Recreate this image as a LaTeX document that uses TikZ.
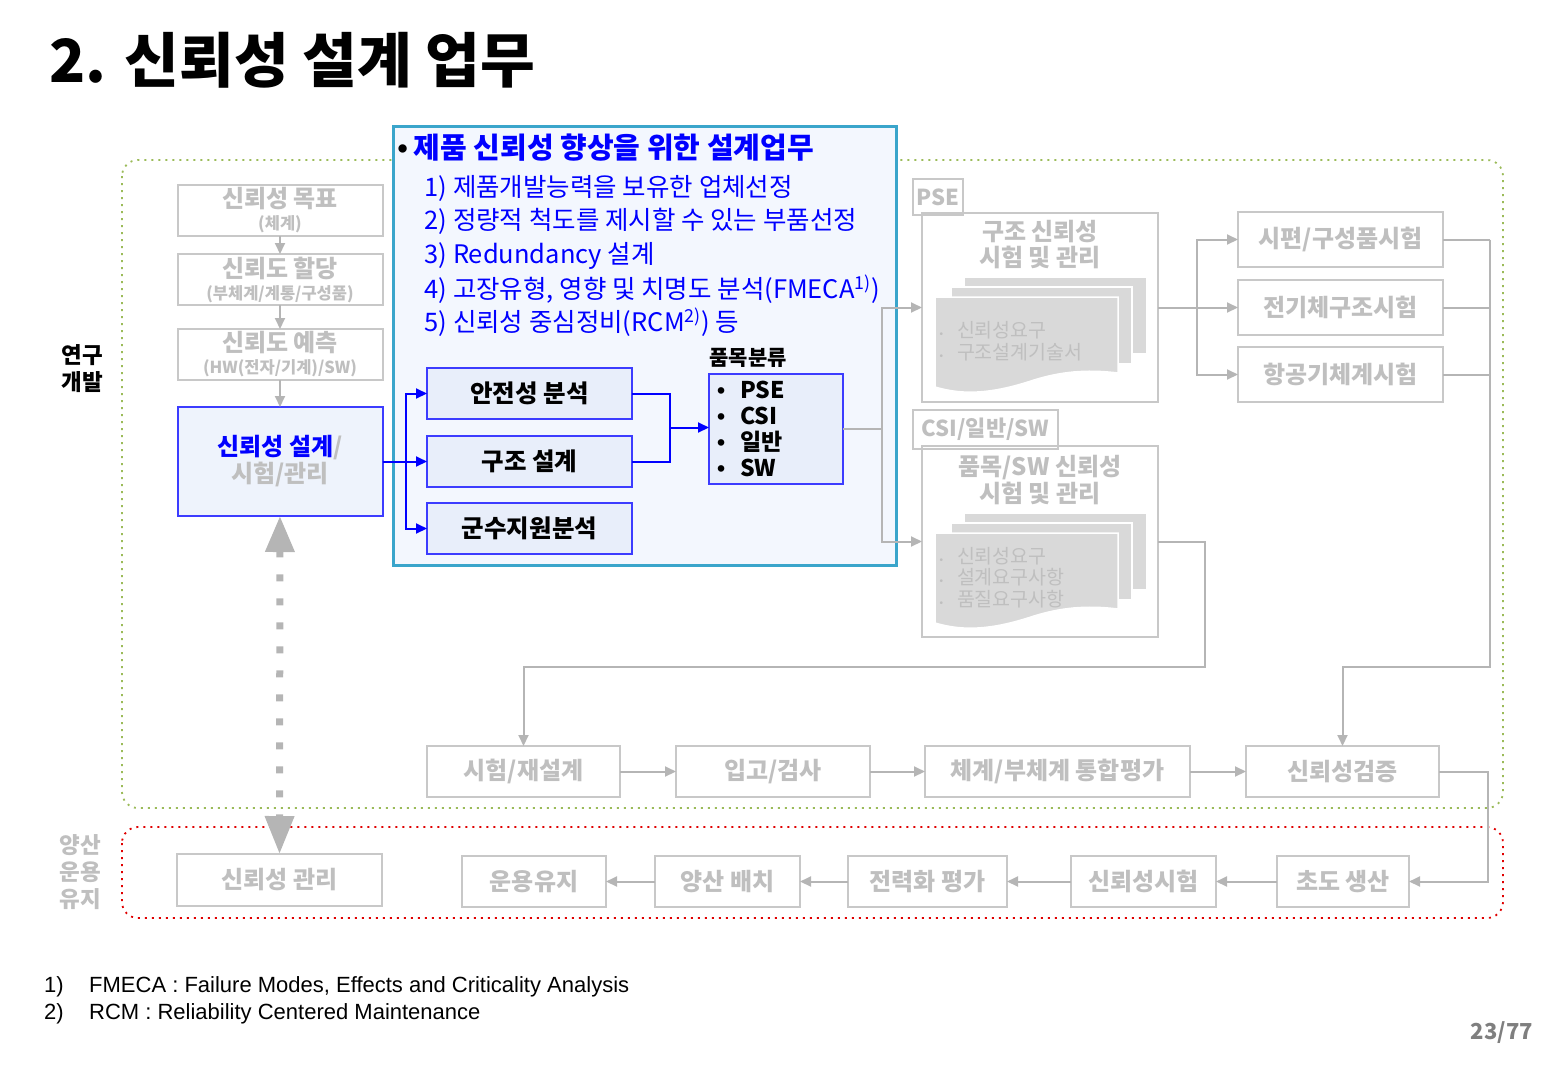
\documentclass[tikz,border=0pt]{standalone}
\usepackage{fontspec}
\setmainfont{Noto Sans CJK KR}
\newfontfamily\arialfont{Liberation Sans}
\usetikzlibrary{arrows.meta, positioning, calc}
\definecolor{cblue}{HTML}{0000FF}
\definecolor{cbox}{HTML}{3C3CFF}
\definecolor{bfill}{HTML}{E8EEFA}
\definecolor{dfill}{HTML}{EEF3FC}
\definecolor{cteal}{HTML}{3AA5CB}
\definecolor{tfill}{HTML}{F3F7FE}
\definecolor{cgray}{HTML}{BFBFBF}
\definecolor{lgray}{HTML}{C8C8C8}
\definecolor{agray}{HTML}{B5B5B5}
\definecolor{csheet}{HTML}{D9D9D9}
\definecolor{cgreen}{HTML}{9BBB59}
\definecolor{cred}{HTML}{E00000}
\definecolor{cpage}{HTML}{7F7F7F}
\newcommand{\fs}[2]{\fontsize{#1}{#2}\selectfont}
\newcommand{\bul}{{\arialfont •}}
\newcommand{\sbul}{{\arialfont\fs{10}{10}•}}

\begin{document}
\begin{tikzpicture}[
  x=1pt, y=-1pt,
  >={Triangle[length=11pt,width=10pt]},
  every node/.style={align=center},
  gbox/.style={draw=lgray, line width=2pt, fill=white, text=cgray, outer sep=0pt,
               font=\bfseries\fs{24}{27}, inner sep=2pt, minimum height=51pt},
  bbox/.style={draw=cbox, line width=1.8pt, fill=bfill, outer sep=0pt,
               font=\bfseries\fs{24.5}{27}, minimum width=205pt, minimum height=51pt},
  tag/.style={draw=lgray, line width=1.5pt, text=cgray,
              font=\bfseries\fs{22}{24}, inner sep=2pt},
  item/.style={anchor=west, text=cblue, font=\fs{25.5}{28}},
  note/.style={anchor=west, text=cgray, font=\fs{19.5}{22}},
  garr/.style={->, line width=2pt, draw=agray},
  gline/.style={line width=2pt, draw=agray},
  barr/.style={->, line width=2pt, draw=cblue},
  bline/.style={line width=2pt, draw=cblue},
  zone/.style={line width=1.8pt, dash pattern=on 2pt off 5pt, rounded corners=16pt},
  sheet/.style={fill=csheet, draw=white, line width=1.5pt},
]
\useasboundingbox (0,0) rectangle (1548,1066);

% title
\node[anchor=west, font=\bfseries\fs{59.5}{62}] (title) at (46,60) {2. 신뢰성 설계 업무};

% phase zones
\draw[zone, draw=cgreen] (122,160) rectangle (1503,808);
\draw[zone, draw=cred] (122,827) rectangle (1503,918);
\node[font=\bfseries\fs{22.5}{27}] (rnd) at (82,369) {연구\\개발};
\node[font=\bfseries\fs{22.5}{27}, text=cgray] (prod) at (80,872) {양산\\운용\\유지};

% left column
\node[gbox, minimum width=205pt, inner ysep=0pt] (goal) at (280,210.5)
  {\fs{24}{22}신뢰성 목표\\[-5pt]{\fs{16.5}{17}(체계)}};
\node[gbox, minimum width=205pt, inner ysep=0pt, below=18pt of goal] (alloc)
  {\fs{24}{22}신뢰도 할당\\[-5pt]{\fs{16.5}{17}(부체계/계통/구성품)}};
\node[gbox, minimum width=205pt, inner ysep=0pt, below=24pt of alloc] (pred)
  {\fs{24}{22}신뢰도 예측\\[-5pt]{\fs{16.5}{17}(HW(전자/기계)/SW)}};
\node[draw=cbox, line width=2pt, fill=dfill, minimum width=205pt, outer sep=0pt,
      minimum height=109pt, text=cgray, font=\bfseries\fs{24}{27},
      below=27pt of pred] (design) {\textcolor{cblue}{신뢰성 설계}/\\시험/관리};
\draw[garr] (goal) -- (alloc);
\draw[garr] (alloc) -- (pred);
\draw[garr] (pred) -- (design);

% design work panel
\node[draw=cteal, line width=3pt, fill=tfill, minimum width=503pt,
      minimum height=439pt] (work) at (644.5,345.5) {};
\node[anchor=west, font=\bfseries\fs{29}{30}] (head) at (394,148)
  {\bul\hspace{6pt}\textcolor{cblue}{제품 신뢰성 향상을 위한 설계업무}};
\node[item] (it1) at (421,188) {1) 제품개발능력을 보유한 업체선정};
\node[item] (it2) at (421,221) {2) 정량적 척도를 제시할 수 있는 부품선정};
\node[item] (it3) at (421,256) {3) Redundancy 설계};
\node[item] (it4) at (421,289) {4) 고장유형, 영향 및 치명도 분석(FMECA\textsuperscript{1)})};
\node[item] (it5) at (421,322) {5) 신뢰성 중심정비(RCM\textsuperscript{2)}) 등};

\node[bbox] (safety) at (529.5,393.5) {안전성 분석};
\node[bbox, below=17pt of safety] (struct) {구조 설계};
\node[bbox, below=16pt of struct] (ils) {군수지원분석};
\node[font=\bfseries\fs{21}{22}] (clslbl) at (748,358) {품목분류};
\node[draw=cbox, line width=1.8pt, fill=bfill, minimum width=134pt, outer sep=0pt,
      minimum height=110pt, text width=118pt, align=left, inner xsep=8pt,
      font=\bfseries\fs{23}{26}] (class) at (776,429)
  {\bul\hspace{15pt}PSE\\\bul\hspace{15pt}CSI\\\bul\hspace{15pt}일반\\\bul\hspace{15pt}SW};

\draw[barr] (design) -- (struct);
\draw[barr] (design.east) -- ++(23,0) |- (safety.west);
\draw[barr] (design.east) -- ++(23,0) |- (ils.west);
\draw[bline] (safety.east) -- ++(38,0) coordinate (sj) |- (struct.east);
\draw[barr] ($(sj)!.5!(sj |- struct.east)$) coordinate (mj) -- (mj -| class.west);

% PSE / CSI test and management
\node[draw=lgray, line width=2pt, fill=white, minimum width=236pt, outer sep=0pt,
      minimum height=189pt] (pse) at (1040,307.5) {};
\node[draw=lgray, line width=2pt, fill=white, minimum width=236pt, outer sep=0pt,
      minimum height=191pt] (csi) at (1040,541.5) {};
\foreach \dy in {0,236}{
  \begin{scope}[shift={(0,\dy)}]
    \draw[sheet] (964,277) rectangle (1147,354);
    \draw[sheet] (951,287) rectangle (1132,364);
    \draw[sheet] (935,297) -- (1118,297) -- (1118,373)
      .. controls (1085,369) and (1060,372) .. (1034,380)
      .. controls (995,393) and (965,396) .. (935,387) -- cycle;
  \end{scope}
}
\node[text=cgray, font=\bfseries\fs{24}{26}] (psett) at (1040,245) {구조 신뢰성\\시험 및 관리};
\node[tag, minimum width=50pt, minimum height=36pt] (psetag) at (938,197) {PSE};
\node[note] (pn1) at (936,330) {\sbul\hspace{14pt}신뢰성요구};
\node[note] (pn2) at (936,352) {\sbul\hspace{14pt}구조설계기술서};
\node[text=cgray, font=\bfseries\fs{24}{27}] (csitt) at (1040,480) {품목/SW 신뢰성\\시험 및 관리};
\node[tag, minimum width=145pt, minimum height=39pt] (csitag) at (985.5,429.5) {CSI/일반/SW};
\node[note] (cn1) at (936,556) {\sbul\hspace{14pt}신뢰성요구};
\node[note] (cn2) at (936,577) {\sbul\hspace{14pt}설계요구사항};
\node[note] (cn3) at (936,599) {\sbul\hspace{14pt}품질요구사항};

\draw[gline] (class.east) -- ++(39,0) coordinate (cj);
\draw[garr] (cj) |- (pse.west);
\draw[garr] (cj) |- (csi.west);

% structural tests
\node[gbox, minimum width=205pt, minimum height=55pt] (spec) at (1340.5,239.5) {시편/구성품시험};
\node[gbox, minimum width=205pt, minimum height=55pt, below=13pt of spec] (full) {전기체구조시험};
\node[gbox, minimum width=205pt, minimum height=55pt, below=12pt of full] (sys) {항공기체계시험};
\draw[gline] (pse.east) -- ++(39,0) coordinate (pj);
\draw[garr] (pj) |- (spec.west);
\draw[garr] (pj) -- (full.west);
\draw[garr] (pj) |- (sys.west);

% development flow
\node[gbox, minimum width=193pt] (test) at (523.5,771.5) {시험/재설계};
\node[gbox, minimum width=194pt, right=56pt of test] (insp) {입고/검사};
\node[gbox, minimum width=265pt, right=55pt of insp] (integ) {체계/부체계 통합평가};
\node[gbox, minimum width=193pt, right=56pt of integ] (verify) {신뢰성검증};
\draw[garr] (test) -- (insp);
\draw[garr] (insp) -- (integ);
\draw[garr] (integ) -- (verify);

\draw[gline] (spec.east) -- ++(47,0) coordinate (rt);
\draw[gline] (full.east) -- (full.east -| rt);
\draw[gline] (sys.east) -- (sys.east -| rt);
\draw[garr] (rt) -- ++(0,427) -| (verify.north);
\draw[garr] (csi.east) -- ++(47,0) -- ++(0,125) -| (test.north);

% production flow
\node[gbox, minimum width=205pt, minimum height=52pt] (mgmt) at (279.5,880) {신뢰성 관리};
\node[gbox, minimum width=132pt] (lrip) at (1343,881.5) {초도 생산};
\node[gbox, minimum width=145pt, left=61pt of lrip] (rtest) {신뢰성시험};
\node[gbox, minimum width=159pt, left=64pt of rtest] (field) {전력화 평가};
\node[gbox, minimum width=145pt, left=48pt of field] (deploy) {양산 배치};
\node[gbox, minimum width=144pt, left=49pt of deploy] (oper) {운용유지};
\draw[garr] (verify.east) -- ++(49,0) |- (lrip.east);
\draw[garr] (lrip) -- (rtest);
\draw[garr] (rtest) -- (field);
\draw[garr] (field) -- (deploy);
\draw[garr] (deploy) -- (oper);

\draw[line width=7pt, draw=agray, dash pattern=on 7pt off 17pt,
      {Triangle[length=36pt,width=28pt]}-{Triangle[length=38pt,width=28pt]}]
  (design) -- (mgmt);

% footnotes
\node[anchor=west, inner sep=0pt, font=\arialfont\fs{22}{26}] (fn1) at (44,987)
  {\makebox[45pt][l]{1)}FMECA : Failure Modes, Effects and Criticality Analysis};
\node[anchor=west, inner sep=0pt, font=\arialfont\fs{22}{26}] (fn2) at (44,1014)
  {\makebox[45pt][l]{2)}RCM : Reliability Centered Maintenance};
\node[font=\bfseries\fs{22}{26}, text=cpage] (page) at (1502,1033) {23/77};
\end{tikzpicture}
\end{document}
